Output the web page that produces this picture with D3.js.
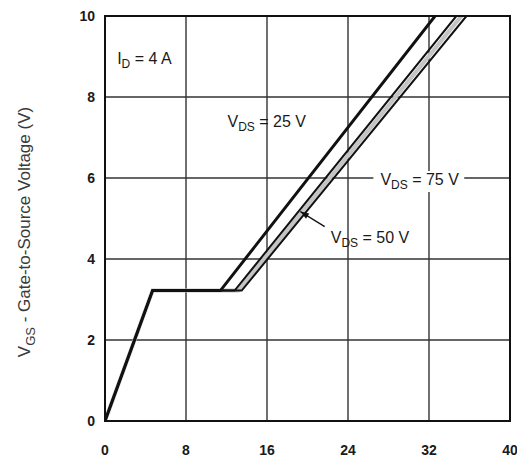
<!DOCTYPE html>
<html>
<head>
<meta charset="utf-8">
<script src="https://cdn.jsdelivr.net/npm/d3@7"></script>
<style>
  body { margin: 0; background: #fff; }
  text { font-family: "Liberation Sans", Arial, sans-serif; fill: #1a1a1a; }
</style>
</head>
<body>
<div id="chart"></div>
<script>
const width = 517;
const height = 457;

// gate charge (nC) vs gate-source voltage (V)
const xTicks = [0, 8, 16, 24, 32, 40];
const yTicks = [0, 2, 4, 6, 8, 10];
const vds25 = [[0, 0], [4.7, 3.22], [11.4, 3.22], [32.6, 10]];
const vds50 = [[0, 0], [4.7, 3.22], [12.8, 3.22], [34.7, 10]];
const vds75 = [[0, 0], [4.7, 3.22], [13.5, 3.22], [35.7, 10]];

const margin = {top: 16, right: 7, bottom: 36, left: 105};

const svg = d3.select("#chart").append("svg")
    .attr("width", width)
    .attr("height", height);

const x = d3.scaleLinear().domain([0, 40]).range([margin.left, width - margin.right]);
const y = d3.scaleLinear().domain([0, 10]).range([height - margin.bottom, margin.top]);

svg.append("defs").append("clipPath").attr("id", "plot")
  .append("rect")
    .attr("x", x(0)).attr("y", y(10))
    .attr("width", x(40) - x(0)).attr("height", y(0) - y(10));

// grid
svg.append("g")
    .attr("stroke", "#333")
    .attr("stroke-width", 1.4)
  .selectAll("line.v")
  .data(xTicks.slice(1, -1))
  .join("line")
    .attr("x1", d => x(d)).attr("x2", d => x(d))
    .attr("y1", y(0)).attr("y2", y(10));

svg.append("g")
    .attr("stroke", "#333")
    .attr("stroke-width", 1.4)
  .selectAll("line.h")
  .data(yTicks.slice(1, -1))
  .join("line")
    .attr("x1", x(0)).attr("x2", x(40))
    .attr("y1", d => y(d)).attr("y2", d => y(d));

const line = d3.line().x(d => x(d[0])).y(d => y(d[1]));

const curves = svg.append("g").attr("clip-path", "url(#plot)").attr("fill", "none");

// light band between the 50 V and 75 V traces
curves.append("path")
    .attr("d", line(vds50.map((p, i) => [(p[0] + vds75[i][0]) / 2, p[1]])))
    .attr("stroke", "#c4c4c4")
    .attr("stroke-width", 4);

[[vds75, 2], [vds50, 2], [vds25, 3]].forEach(([data, w]) => {
  curves.append("path")
      .attr("d", line(data))
      .attr("stroke", "#111")
      .attr("stroke-width", w)
      .attr("stroke-linejoin", "miter");
});

// frame
svg.append("rect")
    .attr("x", x(0)).attr("y", y(10))
    .attr("width", x(40) - x(0)).attr("height", y(0) - y(10))
    .attr("fill", "none")
    .attr("stroke", "#111")
    .attr("stroke-width", 2);

// tick labels
svg.append("g")
  .selectAll("text")
  .data(xTicks)
  .join("text")
    .attr("x", d => x(d))
    .attr("y", 455)
    .attr("text-anchor", "middle")
    .attr("font-size", 14)
    .attr("font-weight", "bold")
    .text(d => d);

svg.append("g")
  .selectAll("text")
  .data(yTicks)
  .join("text")
    .attr("x", x(0) - 10)
    .attr("y", d => y(d))
    .attr("dy", "0.35em")
    .attr("text-anchor", "end")
    .attr("font-size", 14)
    .attr("font-weight", "bold")
    .text(d => d);

// y title
const yt = svg.append("text")
    .attr("transform", "translate(30,232) rotate(-90)")
    .attr("text-anchor", "middle")
    .attr("font-size", 17)
    .style("fill", "#3a3a3a");
yt.append("tspan").text("V");
yt.append("tspan").attr("font-size", 13).attr("dy", 5).text("GS");
yt.append("tspan").attr("dy", -5).text(" - Gate-to-Source Voltage (V)");

// annotations
function label(px, py, pre, sub, post, bg) {
  const g = svg.append("g");
  const t = g.append("text")
      .attr("x", px).attr("y", py)
      .attr("font-size", 16);
  t.append("tspan").text(pre);
  t.append("tspan").attr("font-size", 12).attr("dy", 4).text(sub);
  t.append("tspan").attr("dy", -4).text(post);
  if (bg) {
    const b = t.node().getBBox();
    g.insert("rect", "text")
        .attr("x", b.x - 7).attr("y", b.y)
        .attr("width", b.width + 12).attr("height", b.height)
        .attr("fill", "#fff");
  }
}

label(x(1.2), 64, "I", "D", " = 4 A");
label(x(12.1), 127, "V", "DS", " = 25 V");
label(x(27.2), 185, "V", "DS", " = 75 V", true);
label(x(22.3), 243, "V", "DS", " = 50 V");

// arrow to the 50 V trace
const arrow = [[21.7, 4.8], [19.3, 5.17]];
const ax = x(arrow[1][0]), ay = y(arrow[1][1]);
const bx = x(arrow[0][0]), by = y(arrow[0][1]);
svg.append("line")
    .attr("x1", bx).attr("y1", by)
    .attr("x2", ax).attr("y2", ay)
    .attr("stroke", "#111")
    .attr("stroke-width", 1.3);
const ang = Math.atan2(by - ay, bx - ax);
const len = 9, spread = 0.35;
svg.append("path")
    .attr("d", "M" + ax + "," + ay +
      "L" + (ax + len * Math.cos(ang - spread)) + "," + (ay + len * Math.sin(ang - spread)) +
      "L" + (ax + len * Math.cos(ang + spread)) + "," + (ay + len * Math.sin(ang + spread)) + "Z")
    .attr("fill", "#111");
</script>
</body>
</html>
